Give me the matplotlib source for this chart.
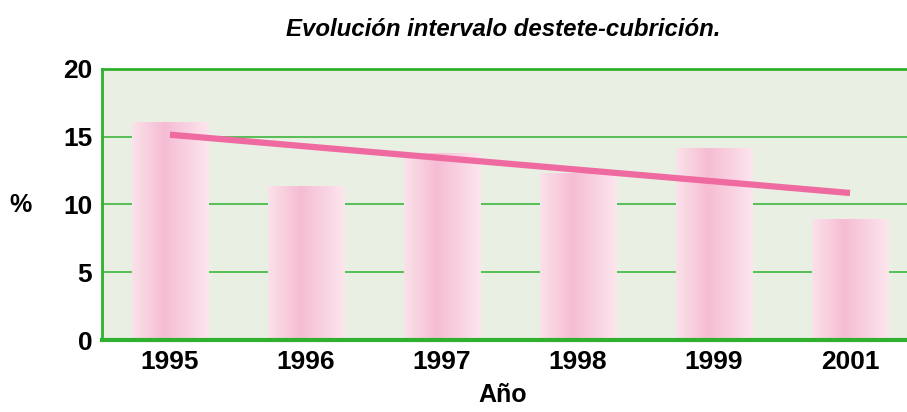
import matplotlib
matplotlib.use("Agg")
import matplotlib.pyplot as plt
import numpy as np
from matplotlib.colors import LinearSegmentedColormap

years = ["1995", "1996", "1997", "1998", "1999", "2001"]
valores = [16.1, 11.4, 13.8, 12.3, 14.2, 8.9]
tendencia = [15.15, 10.85]  # extremos de la linea de tendencia

plt.rcParams['font.family'] = ['Liberation Sans', 'DejaVu Sans']

verde = "#2fb02f"
fig = plt.figure(figsize=(9.07, 4.12), dpi=100)
ax = fig.add_axes([102/907, 72/412, 816/907, 271/412])
ax.set_facecolor("#e9efe3")

x = np.arange(len(years))
bars = ax.bar(x, valores, width=0.565, color="none", zorder=2)

cmap = LinearSegmentedColormap.from_list(
    "rosa", [(0, "#fbe2ea"), (0.42, "#f6bcd3"), (1, "#fce6ee")])
grad = np.linspace(0, 1, 256).reshape(1, -1)
for b in bars:
    x0, w, h = b.get_x(), b.get_width(), b.get_height()
    im = ax.imshow(grad, cmap=cmap, aspect="auto", extent=[x0, x0 + w, 0, h], zorder=2)
    im.set_clip_path(b)

ax.plot([x[0], x[-1]], tendencia, color="#ee6aa0", lw=4.5, zorder=3, solid_capstyle="butt")

ax.set_xlim(-0.5, 5.5)
ax.set_ylim(0, 20)
ax.set_yticks([0, 5, 10, 15, 20])
ax.set_xticks(x)
ax.set_xticklabels(years)
ax.yaxis.grid(True, color=verde, lw=1.1, zorder=1)
ax.set_axisbelow(True)
ax.tick_params(length=0, labelsize=19, pad=7)
for lab in ax.get_xticklabels() + ax.get_yticklabels():
    lab.set_fontweight("bold")

ax.spines["right"].set_visible(False)
ax.spines["top"].set_color(verde)
ax.spines["top"].set_linewidth(2)
ax.spines["left"].set_color(verde)
ax.spines["left"].set_linewidth(2)
ax.spines["bottom"].set_color(verde)
ax.spines["bottom"].set_linewidth(3)

fig.text(503/907, 1 - 30/412, "Evolución intervalo destete-cubrición.", ha="center", va="center",
         fontsize=17.3, fontweight="bold", fontstyle="italic")
fig.text(20/907, 1 - 205/412, "%", ha="center", va="center", fontsize=18, fontweight="bold")
fig.text(503/907, 1 - 395/412, "Año", ha="center", va="center", fontsize=18, fontweight="bold")

fig.savefig("out.png", dpi=100)
